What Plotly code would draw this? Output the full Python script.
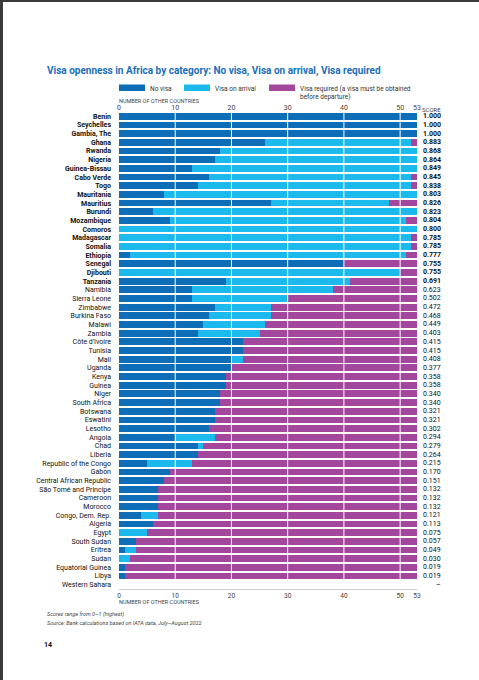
import plotly.graph_objects as go

countries = [
    "Benin", "Seychelles", "Gambia, The", "Ghana", "Rwanda", "Nigeria", "Guinea-Bissau",
    "Cabo Verde", "Togo", "Mauritania", "Mauritius", "Burundi", "Mozambique", "Comoros",
    "Madagascar", "Somalia", "Ethiopia", "Senegal", "Djibouti", "Tanzania",
    "Namibia", "Sierra Leone", "Zimbabwe", "Burkina Faso", "Malawi", "Zambia",
    "Côte d'Ivoire", "Tunisia", "Mali", "Uganda", "Kenya", "Guinea", "Niger",
    "South Africa", "Botswana", "Eswatini", "Lesotho", "Angola", "Chad", "Liberia",
    "Republic of the Congo", "Gabon", "Central African Republic", "São Tomé and Principe",
    "Cameroon", "Morocco", "Congo, Dem. Rep.", "Algeria", "Egypt", "South Sudan",
    "Eritrea", "Sudan", "Equatorial Guinea", "Libya", "Western Sahara",
]
no_visa = [53, 53, 53, 26, 18, 17, 13, 16, 14, 8, 27, 6, 9, 0, 0, 0, 2, 40, 0, 19,
           13, 13, 17, 16, 15, 14, 22, 22, 20, 20, 19, 19, 18, 18, 17, 17, 16, 10, 14, 14,
           5, 9, 8, 7, 7, 7, 4, 6, 0, 3, 1, 0, 1, 1, 0]
visa_on_arrival = [0, 0, 0, 26, 35, 36, 40, 36, 38, 45, 21, 47, 42, 53, 52, 52, 49, 0, 50, 22,
                   25, 17, 10, 11, 11, 11, 0, 0, 2, 0, 0, 0, 0, 0, 0, 0, 0, 7, 1, 0,
                   8, 0, 0, 0, 0, 0, 3, 0, 5, 0, 2, 2, 0, 0, 0]
visa_required = [0, 0, 0, 1, 0, 0, 0, 1, 1, 0, 5, 0, 2, 0, 1, 1, 2, 13, 3, 12,
                 15, 23, 26, 26, 27, 28, 31, 31, 31, 33, 34, 34, 35, 35, 36, 36, 37, 36, 38, 39,
                 40, 44, 45, 46, 46, 46, 46, 47, 48, 50, 50, 51, 52, 52, 0]
scores = ["1.000", "1.000", "1.000", "0.883", "0.868", "0.864", "0.849", "0.845", "0.838",
          "0.803", "0.826", "0.823", "0.804", "0.800", "0.785", "0.785", "0.777", "0.755",
          "0.755", "0.691", "0.623", "0.502", "0.472", "0.468", "0.449", "0.403", "0.415",
          "0.415", "0.408", "0.377", "0.358", "0.358", "0.340", "0.340", "0.321", "0.321",
          "0.302", "0.294", "0.279", "0.264", "0.215", "0.170", "0.151", "0.132", "0.132",
          "0.132", "0.121", "0.113", "0.075", "0.057", "0.049", "0.030", "0.019", "0.019", "–"]
n_bold = 20
tick_vals = [0, 10, 20, 30, 40, 50, 53]
grid_vals = [10, 20, 30, 40, 50]

series = [
    ("No visa", no_visa, "#0d6db6"),
    ("Visa on arrival", visa_on_arrival, "#1bb9ec"),
    ("Visa required", visa_required, "#a2479b"),
]

W, H = 479, 680
L, R, T, B = 119, 417, 112, 589
PW, PH = R - L, B - T


def px(x):
    return (x - L) / PW


def py(y):
    return 1 - (y - T) / PH


FONT = "Roboto, Liberation Sans, sans-serif"

fig = go.Figure()
for name, vals, color in series:
    fig.add_trace(go.Bar(y=countries, x=vals, name=name, orientation="h",
                         marker=dict(color=color, line=dict(width=0)),
                         showlegend=False))
# invisible trace so the bottom axis gets drawn
fig.add_trace(go.Scatter(y=countries, x=no_visa, xaxis="x2", mode="markers",
                         marker=dict(opacity=0), hoverinfo="skip", showlegend=False))

ticktext = [f"<b>{c}</b>" if i < n_bold else c for i, c in enumerate(countries)]

fig.update_layout(
    width=W, height=H,
    margin=dict(l=L, r=W - R, t=T, b=H - B),
    barmode="stack", bargap=0.22,
    plot_bgcolor="white", paper_bgcolor="white",
    font=dict(family=FONT, size=7, color="#222"),
    xaxis=dict(range=[0, 53], side="top", tickvals=tick_vals, showgrid=False,
               zeroline=False, showline=False, ticks="", tickfont=dict(size=7, color="#444"),
               ticklabelstandoff=0),
    xaxis2=dict(range=[0, 53], overlaying="x", side="bottom", anchor="y", tickvals=tick_vals,
                showgrid=False, zeroline=False, showline=True, linecolor="#d0d0d0", linewidth=1,
                ticks="", tickfont=dict(size=6.5, color="#444"), ticklabelstandoff=0),
    yaxis=dict(range=[len(countries) - 0.5, -0.5], tickvals=countries, ticktext=ticktext,
               ticks="", showgrid=False, zeroline=False, tickfont=dict(size=7, color="#111"),
               ticklabelstandoff=7),
    title=dict(text="<b>Visa openness in Africa by category: No visa, Visa on arrival, Visa required</b>",
               x=47 / W, xanchor="left", y=1 - 70 / H, yanchor="middle", xref="container",
               yref="container", font=dict(size=10, color="#1a6fb9", family="Roboto")),
)

# white gridlines drawn over the bars
for g in grid_vals:
    fig.add_shape(type="line", xref="x", yref="paper", x0=g, x1=g, y0=0, y1=1,
                  line=dict(color="white", width=1), layer="above")

# scores column
fig.add_annotation(x=px(443), y=py(109), xref="paper", yref="paper", text="SCORE",
                   showarrow=False, xanchor="right", yanchor="middle",
                   font=dict(size=6, color="#444"))
for i, (c, s) in enumerate(zip(countries, scores)):
    fig.add_annotation(x=px(443), y=c, xref="paper", yref="y",
                       text=f"<b>{s}</b>" if i < n_bold else s,
                       showarrow=False, xanchor="right", yanchor="middle",
                       font=dict(size=7, color="#111"))

# axis titles
for yy in (101, 601.5):
    fig.add_annotation(x=px(117), y=py(yy), xref="paper", yref="paper",
                       text="NUMBER OF OTHER COUNTRIES", showarrow=False,
                       xanchor="left", yanchor="middle", font=dict(size=5.5, color="#444"))

# legend
legend_items = [
    (119, 145, series[0][2], "No visa"),
    (184, 210, series[1][2], "Visa on arrival"),
    (269, 295, series[2][2], "Visa required (a visa must be obtained<br>before departure)"),
]
for x0, x1, color, label in legend_items:
    fig.add_shape(type="rect", xref="paper", yref="paper", x0=px(x0), x1=px(x1),
                  y0=py(91), y1=py(84.5), fillcolor=color, line=dict(width=0))
    fig.add_annotation(x=px(x1 + 3), y=py(83), xref="paper", yref="paper", text=label,
                       showarrow=False, xanchor="left", yanchor="top", align="left",
                       font=dict(size=6.5, color="#333"))

# notes
fig.add_annotation(x=px(45), y=py(614), xref="paper", yref="paper",
                   text="<i>Scores range from 0–1 (highest)</i>", showarrow=False,
                   xanchor="left", yanchor="middle", font=dict(size=5.5, color="#444"))
fig.add_annotation(x=px(45), y=py(623), xref="paper", yref="paper",
                   text="<i>Source: Bank calculations based on IATA data, July–August 2022</i>",
                   showarrow=False, xanchor="left", yanchor="middle",
                   font=dict(size=5.5, color="#444"))
fig.add_annotation(x=px(42), y=py(645), xref="paper", yref="paper", text="<b>14</b>",
                   showarrow=False, xanchor="left", yanchor="middle",
                   font=dict(size=7, color="#111"))

# page edge
fig.add_shape(type="rect", xref="paper", yref="paper", x0=px(0), x1=px(3), y0=py(H), y1=py(0),
              fillcolor="#3a3a3a", line=dict(width=0), layer="above")
fig.add_shape(type="rect", xref="paper", yref="paper", x0=px(0), x1=px(W), y0=py(2), y1=py(0),
              fillcolor="#3a3a3a", line=dict(width=0), layer="above")

fig.write_html("out.html", config={"displayModeBar": False},
               post_script="document.body.style.margin = '0';")
